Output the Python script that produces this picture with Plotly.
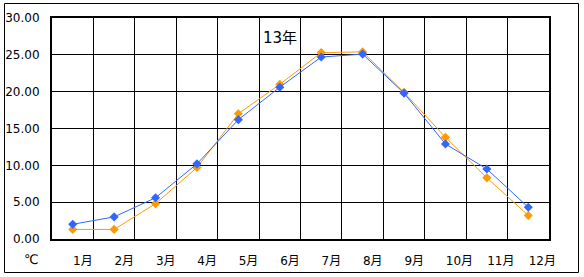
import plotly.graph_objects as go

months = ["1月", "2月", "3月", "4月", "5月", "6月", "7月", "8月", "9月", "10月", "11月", "12月"]
month_pos = list(range(1, 13))
series_blue = [2.0, 3.0, 5.6, 10.2, 16.2, 20.6, 24.7, 25.1, 19.8, 12.9, 9.5, 4.3]
series_orange = [1.3, 1.3, 4.8, 9.7, 17.0, 21.0, 25.3, 25.4, 19.9, 13.8, 8.3, 3.2]
y_ticks = [0, 5, 10, 15, 20, 25, 30]
title_text = "13年"
unit_text = "℃"

FONT = "DejaVu Sans, Noto Sans CJK JP, sans-serif"

# pad single-digit month labels so all labels left-align after centering
tick_text = [m if len(m) == 3 else m + "\u2007" for m in months]

fig = go.Figure()
fig.add_trace(go.Scatter(
    x=month_pos, y=series_orange, mode="lines+markers",
    line=dict(color="#FF9900", width=1),
    marker=dict(symbol="diamond", size=7, color="#FF9900"),
    showlegend=False,
))
fig.add_trace(go.Scatter(
    x=month_pos, y=series_blue, mode="lines+markers",
    line=dict(color="#3366FF", width=1),
    marker=dict(symbol="diamond", size=7, color="#3366FF"),
    showlegend=False,
))

L, R, T, B = 52, 35, 18, 38
W, H = 584, 277
pw, ph = W - L - R, H - T - B

def px_x(px):
    return (px - L) / pw

def px_y(py):
    return (H - B - py) / ph

fig.update_layout(
    width=W, height=H,
    margin=dict(l=L, r=R, t=T, b=B, pad=0),
    paper_bgcolor="white", plot_bgcolor="white",
    font=dict(family=FONT, size=12, color="black"),
    xaxis=dict(
        range=[0.5, 12.5], tickvals=month_pos, ticktext=tick_text,
        showgrid=False, zeroline=False, automargin=False,
        showline=True, linecolor="black", linewidth=2, mirror=True,
        ticks="", ticklabelshift=14, ticklabelstandoff=10,
        minor=dict(tick0=0.5, dtick=1, showgrid=True, gridcolor="black", gridwidth=1, ticks=""),
        fixedrange=True,
    ),
    yaxis=dict(
        range=[0, 30], tickvals=y_ticks, tickformat=".2f",
        showgrid=True, gridcolor="black", gridwidth=1, zeroline=False, automargin=False,
        showline=True, linecolor="black", linewidth=2, mirror=True,
        ticks="", ticklabelstandoff=8,
        fixedrange=True,
    ),
    shapes=[dict(
        type="rect", xref="paper", yref="paper",
        x0=px_x(4.5), x1=px_x(578.5), y0=px_y(272.5), y1=px_y(3.5),
        line=dict(color="black", width=1), fillcolor="rgba(0,0,0,0)", layer="below",
    )],
    annotations=[
        dict(text=title_text, xref="paper", yref="paper", x=px_x(280), y=px_y(38),
             xanchor="center", yanchor="middle", showarrow=False,
             font=dict(family=FONT, size=15)),
        dict(text=unit_text, xref="paper", yref="paper", x=px_x(31), y=px_y(259),
             xanchor="center", yanchor="middle", showarrow=False,
             font=dict(family=FONT, size=13)),
    ],
)

fig.write_html("out.html")
